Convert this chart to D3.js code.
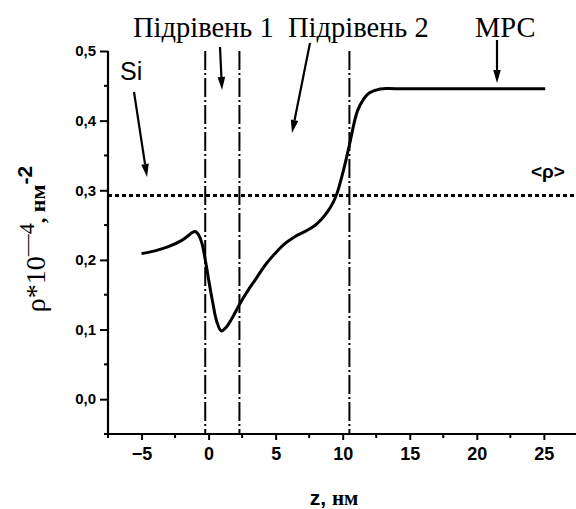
<!DOCTYPE html>
<html>
<head>
<meta charset="utf-8">
<script src="https://cdn.jsdelivr.net/npm/d3@7"></script>
<style>
  body { margin: 0; background: #fff; }
  svg { display: block; }
</style>
</head>
<body>
<svg id="chart" width="576" height="509"></svg>
<script>
// density profile rho(z)
const zValues = [-5, -4, -3, -2, -1.5, -1.2, -0.95, -0.75, -0.5, -0.2, 0.0, 0.3, 0.6, 0.95, 1.3, 1.8, 2.3, 3.0, 3.5, 4.2, 4.9, 5.6, 6.4, 7.2, 7.9, 8.4, 8.9, 9.3, 9.6, 10.1, 10.5, 11.1, 11.6, 12.0, 12.8, 14, 25.1];
const rhoValues = [0.209, 0.213, 0.219, 0.228, 0.235, 0.2395, 0.2405, 0.236, 0.224, 0.195, 0.172, 0.14, 0.112, 0.098, 0.103, 0.118, 0.136, 0.158, 0.172, 0.192, 0.208, 0.222, 0.233, 0.241, 0.249, 0.258, 0.270, 0.283, 0.297, 0.332, 0.365, 0.414, 0.432, 0.440, 0.4455, 0.4458, 0.4458];

const boundaries = [-0.25, 2.3, 10.5];
const meanRho = 0.2925;

const xTicks = [-5, 0, 5, 10, 15, 20, 25];
const yTicks = [0.0, 0.1, 0.2, 0.3, 0.4, 0.5];

// region labels with their arrows (pixel layout)
const annotations = [
  { text: "Si", font: "Liberation Sans", size: 25, x: 120, y: 80, from: [134, 92], to: [147, 177] },
  { text: "Підрівень 1", font: "Liberation Serif", size: 28.5, x: 133, y: 37, from: [220, 47], to: [222, 90] },
  { text: "Підрівень 2", font: "Liberation Serif", size: 28.5, x: 288, y: 37, from: [310, 43], to: [292, 133] },
  { text: "МРС", font: "Liberation Serif", size: 28.5, x: 475, y: 37, from: [497, 40], to: [497, 83] }
];

const svg = d3.select("#chart");

const x = d3.scaleLinear().domain([-7.5, 27.5]).range([108, 577.4]);
const y = d3.scaleLinear().domain([-0.05, 0.5]).range([434, 51]);

const data = zValues.map((z, i) => ({ z: z, r: rhoValues[i] }));

// axes
const fmt = d => d3.format(".1f")(d).replace(".", ",");

const yAxis = d3.axisLeft(y).tickValues(yTicks).tickFormat(fmt).tickSize(8).tickPadding(4);
const gy = svg.append("g").attr("transform", `translate(${x(-7.5)},0)`).call(yAxis);
gy.select(".domain").attr("stroke-width", 2.2).attr("d", `M0,${y(-0.05)}V${y(0.5)}`);
gy.selectAll(".tick line").attr("stroke-width", 2);
gy.selectAll(".tick text")
  .attr("font-family", "Liberation Sans, Arial, sans-serif")
  .attr("font-weight", "bold")
  .attr("font-size", 15);

// minor y ticks
svg.append("g").selectAll("line")
  .data(d3.range(-0.05, 0.5, 0.1).map(v => +v.toFixed(2)))
  .join("line")
  .attr("x1", x(-7.5) - 4).attr("x2", x(-7.5))
  .attr("y1", d => y(d)).attr("y2", d => y(d))
  .attr("stroke", "#000").attr("stroke-width", 2);

const xAxis = d3.axisBottom(x).tickValues(xTicks).tickSize(6).tickPadding(7).tickFormat(d3.format("d"));
const gx = svg.append("g").attr("transform", `translate(0,${y(-0.05)})`).call(xAxis);
gx.select(".domain").attr("stroke-width", 2.2).attr("d", `M${x(-7.5)},0H576`);
gx.selectAll(".tick line").attr("stroke-width", 2);
gx.selectAll(".tick text")
  .attr("font-family", "Liberation Sans, Arial, sans-serif")
  .attr("font-weight", "bold")
  .attr("font-size", 18);

// minor x ticks
svg.append("g").selectAll("line")
  .data([-7.5, -2.5, 2.5, 7.5, 12.5, 17.5, 22.5])
  .join("line")
  .attr("x1", d => x(d)).attr("x2", d => x(d))
  .attr("y1", y(-0.05)).attr("y2", y(-0.05) + 4)
  .attr("stroke", "#000").attr("stroke-width", 2);

// vertical dash-dot boundaries
svg.append("g").selectAll("line")
  .data(boundaries)
  .join("line")
  .attr("x1", d => x(d)).attr("x2", d => x(d))
  .attr("y1", y(0.5)).attr("y2", y(-0.05))
  .attr("stroke", "#000")
  .attr("stroke-width", 2)
  .attr("stroke-dasharray", "19,3,2,3");

// mean density dotted line
svg.append("line")
  .attr("x1", x(-7.5)).attr("x2", 576)
  .attr("y1", y(meanRho)).attr("y2", y(meanRho))
  .attr("stroke", "#000")
  .attr("stroke-width", 3)
  .attr("stroke-dasharray", "4,3");

// profile
const line = d3.line()
  .x(d => x(d.z))
  .y(d => y(d.r))
  .curve(d3.curveCatmullRom.alpha(0.5));

svg.append("path")
  .attr("d", line(data))
  .attr("fill", "none")
  .attr("stroke", "#000")
  .attr("stroke-width", 3)
  .attr("stroke-linejoin", "round");

// annotations with arrows
annotations.forEach(a => {
  svg.append("text")
    .attr("x", a.x).attr("y", a.y)
    .attr("font-family", a.font)
    .attr("font-size", a.size)
    .text(a.text);

  const [x1, y1] = a.from;
  const [x2, y2] = a.to;
  const ang = Math.atan2(y2 - y1, x2 - x1);
  const headLen = 13, headW = 3.8;
  const bx = x2 - headLen * Math.cos(ang), by = y2 - headLen * Math.sin(ang);
  svg.append("line")
    .attr("x1", x1).attr("y1", y1).attr("x2", bx).attr("y2", by)
    .attr("stroke", "#000").attr("stroke-width", 2.2);
  const px = -Math.sin(ang) * headW, py = Math.cos(ang) * headW;
  svg.append("path")
    .attr("d", `M${x2},${y2}L${bx + px},${by + py}L${bx - px},${by - py}Z`)
    .attr("fill", "#000");
});

// <rho> label
svg.append("text")
  .attr("x", 531).attr("y", 178)
  .attr("font-family", "Liberation Sans, Arial, sans-serif")
  .attr("font-weight", "bold")
  .attr("font-size", 19)
  .text("<ρ>");

// x axis title
const xt = svg.append("text")
  .attr("x", 334).attr("y", 505)
  .attr("text-anchor", "middle");
xt.append("tspan")
  .attr("font-family", "Liberation Sans, Arial, sans-serif")
  .attr("font-weight", "bold")
  .attr("font-size", 21)
  .text("z, ");
xt.append("tspan")
  .attr("font-family", "Liberation Serif, serif")
  .attr("font-weight", "bold")
  .attr("font-size", 21)
  .text("нм");

// y axis title
const yt = svg.append("text")
  .attr("transform", "translate(45,239) rotate(-90)")
  .attr("text-anchor", "middle");
yt.append("tspan")
  .attr("font-family", "Liberation Serif, serif")
  .attr("font-size", 28)
  .text("ρ*10");
yt.append("tspan")
  .attr("font-family", "Liberation Serif, serif")
  .attr("font-size", 22)
  .attr("dy", -11)
  .text("—4");
yt.append("tspan")
  .attr("font-family", "Liberation Serif, serif")
  .attr("font-weight", "bold")
  .attr("font-size", 22)
  .attr("dy", 11)
  .text(", нм");
yt.append("tspan")
  .attr("font-family", "Liberation Sans, Arial, sans-serif")
  .attr("font-weight", "bold")
  .attr("font-size", 21)
  .attr("dy", -13)
  .text("-2");
</script>
</body>
</html>
